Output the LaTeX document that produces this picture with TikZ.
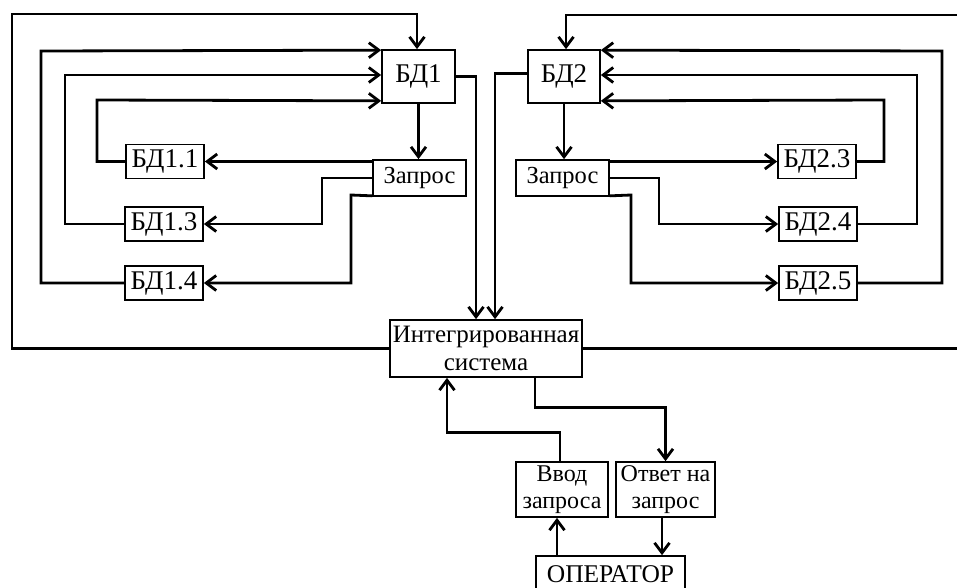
\documentclass[tikz,border=0pt]{standalone}
\usepackage{fontspec}
\setmainfont{Liberation Serif}
\usetikzlibrary{arrows.meta}

\begin{document}
\begin{tikzpicture}[x=1pt,y=-1pt,
  box/.style={draw, line width=1.7pt, inner sep=0pt, align=center},
  dbbox/.style={box, minimum width=78pt, minimum height=34pt, font=\fontsize{27}{29}\selectfont},
  mainbox/.style={box, minimum width=73pt, minimum height=53pt, font=\fontsize{27}{29}\selectfont},
  reqbox/.style={box, minimum width=93pt, minimum height=36pt, font=\fontsize{24.5}{27}\selectfont},
  twoline/.style={box, minimum height=55pt, font=\fontsize{24}{27}\selectfont},
  wire/.style={line width=2.8pt, line join=miter},
  link/.style={wire, -{Straight Barb[length=10pt,width=15pt]}}]
\clip (0,0) rectangle (957,587);
\fill[white] (0,0) rectangle (957,587);

% central databases and their request blocks
\node[mainbox] (bd1) at (418.5,76.5) {БД1};
\node[mainbox, minimum width=72pt] (bd2) at (564,76.5) {БД2};
\node[reqbox] (z1) at (419.5,178) {Запрос};
\node[reqbox] (z2) at (562.5,178) {Запрос};

% local databases
\node[dbbox] (bd11) at (165,161.5) {БД1.1};
\node[dbbox] (bd13) at (164,224) {БД1.3};
\node[dbbox] (bd14) at (164,283) {БД1.4};
\node[dbbox] (bd23) at (817,161.5) {БД2.3};
\node[dbbox] (bd24) at (818,224) {БД2.4};
\node[dbbox] (bd25) at (818,283) {БД2.5};

% integrated system and operator side
\node[box, minimum width=192pt, minimum height=57pt, font=\fontsize{25}{28}\selectfont] (is) at (486,348.5) {Интегрированная\\система};
\node[twoline, minimum width=92pt] (vvod) at (562,489.5) {Ввод\\запроса};
\node[twoline, minimum width=99pt] (otv) at (665.5,489.5) {Ответ на\\запрос};
\node[box, minimum width=149pt, minimum height=36pt, font=\fontsize{25.5}{28}\selectfont] (op) at (610.5,574) {ОПЕРАТОР};

% outer loops from the integrated system to the central databases
\draw[link] (is.west) -| (12,14) -| ([xshift=-1.5pt]bd1.north);
\draw[link] (is.east) -| (975,15) -| ([xshift=2pt]bd2.north);

% feedback from local databases to БД1
\draw[link] (bd11.west) -| (97,100) -- ([yshift=3pt]bd1.south west);
\draw[link] (bd13.west) -| (65,75) -- ([yshift=1.5pt]bd1.west);
\draw[link] (bd14.west) -| (41,51) -- ([yshift=-1pt]bd1.north west);

% feedback from local databases to БД2
\draw[link] (bd23.east) -| (884,100) -- ([yshift=3pt]bd2.south east);
\draw[link] (bd24.east) -| (917,75) -- ([yshift=1.5pt]bd2.east);
\draw[link] (bd25.east) -| (942,51) -- ([yshift=-1pt]bd2.north east);

% central database to its request block
\draw[link] (bd1.south) -- (bd1.south |- z1.north);
\draw[link] (bd2.south) -- (bd2.south |- z2.north);

% requests fanned out to the local databases
\draw[link] (z1.west |- bd11.east) -- (bd11.east);
\draw[link] (z1.west) -- (322,178) |- (bd13.east);
\draw[link] ([yshift=1pt]z1.south west) -- (351,195) |- (bd14.east);
\draw[link] (z2.east |- bd23.west) -- (bd23.west);
\draw[link] (z2.east) -- (659,178) |- (bd24.west);
\draw[link] ([yshift=1pt]z2.south east) -- (631,195) |- (bd25.west);

% central databases into the integrated system
\draw[link] (bd1.east) -| ([xshift=-10pt]is.north);
\draw[link] ([yshift=3pt]bd2.west) -| ([xshift=9pt]is.north);

% operator exchange
\draw[link] ([xshift=49pt]is.south) -- ++(0,30) -| (otv.north);
\draw[link] ([xshift=-2pt]vvod.north) -- ++(0,-29) -| ([xshift=-39pt]is.south);
\draw[link] ([xshift=-5pt]vvod.south |- op.north) -- ([xshift=-5pt]vvod.south);
\draw[link] ([xshift=-3.5pt]otv.south) -- ([xshift=-3.5pt]otv.south |- op.north);
\end{tikzpicture}
\end{document}
